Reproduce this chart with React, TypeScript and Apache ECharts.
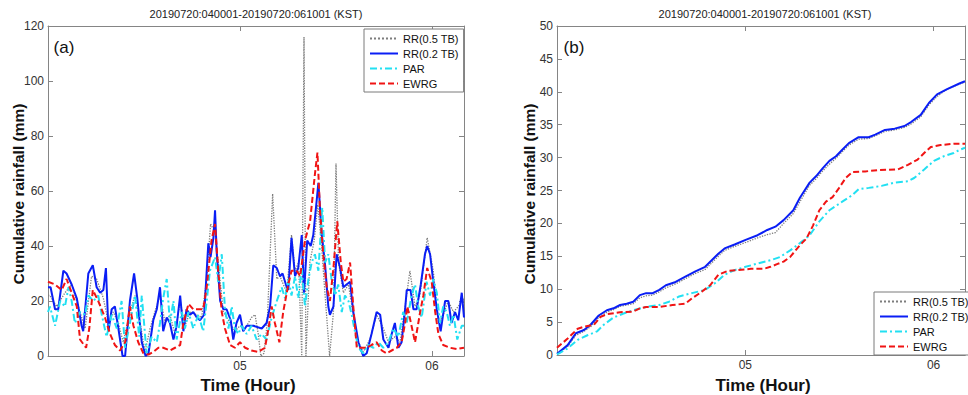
import React, { useEffect, useRef } from "react";
import * as echarts from "echarts";

// ---------- Data (time in minutes after 04:00 KST) ----------
const seriesNames = ["RR(0.5 TB)", "RR(0.2 TB)", "PAR", "EWRG"];
const panelTitle = "20190720:040001-20190720:061001 (KST)";
const hourTickLabels: Record<number, string> = { 60: "05", 120: "06" };

// Panel (a): rain rate
const rr05RateMin = [0, 0.6, 2.7, 5.3, 7.4, 10.0, 11.6, 13.6, 15.2, 17.3, 18.9, 20.4, 22.0, 23.5, 25.6, 27.2, 28.8, 30.3, 31.9, 33.4, 35.0, 36.6, 38.1, 39.7, 41.3, 42.8, 44.4, 46.5, 48.0, 49.6, 50.8, 52.2, 53.2, 54.8, 56.9, 58.4, 60.0, 61.6, 63.6, 64.7, 65.7, 66.5, 67.5, 68.5, 70.2, 71.5, 72.5, 74.6, 76.1, 77.2, 78.3, 79.3, 80.0, 80.6, 81.8, 83.2, 84.3, 85.5, 86.6, 88.0, 89.2, 90.0, 90.8, 92.3, 93.9, 95.4, 97.0, 98.5, 100.6, 102.7, 104.8, 106.4, 108.4, 110.0, 111.6, 113.1, 114.7, 116.2, 118.5, 120.4, 122.0, 123.5, 125.1, 126.7, 128.2, 129.8, 130];
const rr05Rate = [22, 22, 18, 23, 26, 16, 10, 29, 28, 21, 12, 16, 12, 5, 16, 22, 12, 1.5, 10, 16, 22, 12, 15, 8, 20, 11, 16, 15, 14, 28, 48, 45, 34, 16, 12, 9, 11, 10, 14, 15, 8, 0, 1, 12, 59, 28, 29, 23, 44, 31, 34, 0, 116, 0, 34, 42, 55, 40, 22, 0, 16, 70, 34, 23, 26, 15, 5, 1.5, 6, 15, 10, 5, 7, 5, 18, 31, 18, 22, 43, 31, 12, 15, 20, 16, 18, 21, 16];

const rr02RateMin = [0, 0.8, 2.2, 3.2, 4.8, 5.8, 7.4, 9.0, 10.5, 11.0, 12.6, 14.0, 15.2, 16.3, 17.3, 18.1, 18.9, 19.9, 20.9, 22.0, 23.3, 24.1, 25.6, 26.9, 27.9, 29.3, 30.5, 31.4, 32.9, 34.0, 35.0, 36.0, 37.1, 38.1, 39.2, 40.2, 41.3, 42.3, 43.3, 44.4, 45.4, 46.5, 47.5, 48.8, 50.1, 50.8, 51.7, 52.2, 52.7, 53.8, 54.8, 55.8, 57.1, 57.9, 58.9, 60.0, 61.0, 62.1, 64.2, 66.8, 68.3, 69.4, 70.4, 71.5, 72.5, 73.3, 74.6, 75.1, 76.1, 77.2, 78.2, 79.3, 80.0, 81.0, 82.1, 82.9, 84.0, 84.5, 85.5, 86.6, 87.6, 88.1, 89.2, 90.2, 91.3, 92.3, 93.3, 94.4, 95.4, 97.0, 98.5, 99.6, 101.1, 102.7, 103.8, 104.8, 106.4, 107.4, 108.4, 109.5, 110.5, 111.6, 112.1, 113.3, 114.2, 115.2, 116.5, 117.8, 118.5, 119.4, 120.4, 121.5, 122.7, 124.1, 125.1, 126.1, 127.2, 128.2, 129.3, 130];
const rr02Rate = [25, 25, 17, 17, 31, 30, 26, 21, 11, 9, 30, 33, 25, 23, 24, 32, 9, 17, 18, 10, 0, 0, 20, 30, 21, 5, 0, 1, 13, 17, 25, 9, 14, 12, 6, 11, 22, 9, 17, 15, 16, 14, 13, 15, 41, 36, 43, 53, 38, 20, 17, 17, 13, 6, 12, 15, 9, 11, 11, 10, 12, 18, 33, 32, 29, 30, 25, 24, 43, 29, 32, 44, 23, 42, 40, 44, 57, 63, 45, 33, 18, 15, 18, 37, 32, 25, 26, 27, 16, 5, 0, 1, 8, 16, 15, 6, 3, 8, 12, 3, 5, 17, 24, 24, 17, 17, 26, 37, 40, 37, 27, 17, 9, 20, 20, 12, 16, 13, 23, 14];

const parRateMin = [0, 0.6, 2.2, 3.8, 5.3, 6.4, 7.4, 8.4, 10.0, 11.6, 12.6, 14.2, 15.7, 16.8, 18.3, 19.9, 21.5, 23.0, 24.1, 25.6, 27.2, 28.5, 29.3, 30.8, 32.4, 34.0, 35.0, 36.0, 37.1, 38.1, 39.2, 40.2, 41.8, 42.8, 43.9, 45.4, 47.0, 48.5, 49.6, 50.6, 52.2, 53.2, 54.3, 55.3, 56.4, 57.4, 58.4, 59.5, 60.5, 62.1, 63.6, 65.2, 66.8, 68.3, 69.9, 71.5, 73.0, 74.1, 75.1, 76.1, 77.2, 78.2, 79.3, 80.3, 81.4, 82.4, 83.4, 84.5, 85.7, 86.6, 87.6, 88.6, 89.7, 90.7, 91.8, 92.8, 93.9, 94.9, 95.9, 97.0, 98.5, 100.1, 101.7, 103.2, 104.8, 106.4, 107.9, 109.5, 111.0, 112.1, 113.6, 114.7, 115.7, 116.8, 118.3, 119.4, 120.4, 121.5, 122.5, 123.5, 124.6, 125.6, 126.7, 127.9, 129.3, 130];
const parRate = [16, 18, 11, 20, 18, 25, 20, 12, 16, 15, 22, 20, 22, 15, 7, 15, 10, 20, 3, 12, 22, 7, 22, 1, 7, 5, 12, 21, 28, 12, 20, 6, 16, 10, 16, 10, 15, 9, 20, 31, 36, 27, 37, 17, 10, 18, 10, 8, 11, 8, 11, 6, 8, 6, 14, 20, 25, 21, 28, 22, 29, 21, 32, 18, 28, 34, 37, 31, 54, 34, 37, 28, 22, 26, 16, 22, 20, 15, 9, 3, 1, 4, 3, 5, 3, 5, 10, 7, 16, 12, 22, 26, 18, 14, 27, 22, 28, 23, 12, 18, 16, 11, 15, 6, 11, 11];

const ewrgRateMin = [0, 2.2, 4.3, 5.8, 7.4, 9.0, 10.0, 11.9, 12.9, 14.0, 15.7, 17.8, 19.4, 20.9, 22.5, 24.1, 25.6, 26.7, 28.2, 29.8, 31.4, 32.9, 34.5, 36.0, 38.1, 39.7, 41.3, 42.3, 43.9, 45.4, 47.0, 48.5, 49.6, 51.1, 52.2, 53.2, 54.3, 55.3, 56.9, 58.4, 60.0, 61.6, 63.6, 65.7, 67.8, 68.9, 69.9, 70.9, 72.3, 73.5, 75.1, 76.1, 77.7, 78.8, 80.3, 81.9, 83.4, 84.2, 85.0, 86.0, 87.1, 88.1, 89.2, 90.4, 91.5, 92.3, 93.3, 94.4, 95.4, 96.5, 98.0, 99.6, 101.1, 102.7, 104.3, 105.8, 107.4, 109.0, 110.5, 111.6, 112.3, 113.6, 114.7, 116.3, 117.3, 118.5, 119.9, 121.0, 122.0, 123.5, 125.6, 127.7, 130];
const ewrgRate = [27, 26, 24, 28, 23, 18, 6, 3, 10, 24, 20, 14, 8, 4, 2, 5, 18, 11, 5, 1, 0.5, 1.5, 3, 3, 2, 3, 4, 12, 19, 17, 17, 17, 25, 42, 48, 31, 16, 10, 4, 3, 5, 3, 2, 1.5, 3, 10, 18, 12, 5, 16, 26, 31, 31, 29, 42, 49, 66, 74, 53, 37, 25, 20, 32, 49, 34, 27, 28, 34, 18, 3, 3, 3, 4, 5, 2, 1, 2, 3, 5, 12, 18, 11, 5, 16, 22, 32, 27, 16, 8, 4, 3, 2.5, 3];

// Panel (b): cumulative rainfall
const rr05CumMin = [0, 3.4, 6.0, 8.6, 10.7, 13.3, 15.9, 18.0, 20.1, 22.2, 24.3, 26.4, 28.4, 30.5, 32.6, 34.7, 37.8, 40.9, 44.1, 47.2, 49.3, 51.4, 53.4, 56.6, 60.1, 63.9, 67.0, 69.6, 72.2, 75.3, 77.4, 80.5, 82.6, 84.7, 86.8, 88.9, 90.9, 93.0, 96.1, 99.3, 101.4, 104.5, 107.6, 110.7, 112.8, 115.9, 118.5, 121.1, 124.3, 128.4, 130];
const rr05Cum = [0.1, 1.3, 3.0, 3.6, 4.3, 5.7, 6.5, 6.9, 7.4, 7.6, 7.8, 8.7, 9.0, 9.1, 9.6, 10.2, 10.8, 11.6, 12.4, 13.0, 14.0, 15.0, 15.9, 16.5, 17.1, 17.8, 18.3, 18.6, 20.0, 21.5, 23.3, 25.8, 26.8, 28.0, 29.0, 29.9, 30.9, 31.9, 32.8, 32.9, 33.3, 34.0, 34.2, 34.6, 35.1, 36.2, 38.0, 39.3, 40.4, 41.2, 41.5];

const rr02CumMin = [0, 0.8, 3.4, 6.0, 8.6, 10.7, 13.3, 15.9, 18.0, 20.1, 22.2, 24.3, 26.4, 28.4, 30.5, 32.6, 34.7, 37.8, 40.9, 44.1, 47.2, 49.3, 51.4, 53.4, 56.6, 60.1, 63.9, 67.0, 69.6, 72.2, 75.3, 77.4, 80.5, 82.6, 84.7, 86.8, 88.9, 90.9, 93.0, 96.1, 99.3, 101.4, 104.5, 107.6, 110.7, 112.8, 115.9, 118.5, 121.1, 124.3, 128.4, 130];
const rr02Cum = [0.2, 0.5, 1.5, 3.3, 3.8, 4.6, 6.0, 6.8, 7.1, 7.6, 7.8, 8.1, 9.1, 9.4, 9.4, 9.9, 10.6, 11.1, 11.9, 12.7, 13.4, 14.4, 15.4, 16.2, 16.8, 17.5, 18.2, 19.0, 19.5, 20.5, 22.0, 23.9, 26.2, 27.2, 28.4, 29.5, 30.2, 31.2, 32.2, 33.1, 33.1, 33.5, 34.2, 34.4, 34.8, 35.4, 36.5, 38.3, 39.6, 40.4, 41.3, 41.6];

const parCumMin = [0, 0.8, 3.4, 6.6, 9.7, 12.8, 14.9, 18.0, 21.2, 24.3, 28.4, 32.6, 35.7, 38.9, 43.0, 47.2, 50.3, 53.4, 56.6, 60.1, 63.9, 68.0, 71.1, 74.3, 77.4, 80.5, 83.6, 86.8, 90.9, 94.1, 96.1, 99.3, 103.4, 107.6, 111.8, 113.8, 117.0, 120.1, 123.2, 126.4, 128.4, 130];
const parCum = [0.1, 0.3, 1.0, 2.3, 3.0, 3.6, 4.6, 5.7, 6.3, 6.8, 7.3, 7.6, 8.1, 8.9, 9.4, 9.9, 10.9, 12.2, 12.9, 13.4, 13.9, 14.4, 14.9, 15.9, 17.0, 18.2, 20.3, 22.0, 23.3, 24.3, 25.2, 25.4, 25.7, 26.2, 26.4, 26.9, 28.2, 29.5, 30.2, 30.7, 31.2, 31.5];

const ewrgCumMin = [0, 3.4, 6.6, 8.6, 11.8, 13.9, 15.9, 20.1, 24.3, 26.4, 28.4, 32.6, 36.8, 40.9, 43.0, 46.1, 48.8, 51.4, 54.5, 57.6, 61.8, 65.9, 68.0, 70.1, 72.2, 74.3, 77.4, 79.5, 81.6, 83.6, 85.7, 87.8, 89.9, 92.0, 94.1, 98.2, 102.4, 108.6, 111.8, 114.9, 117.0, 119.1, 122.2, 126.4, 130];
const ewrgCum = [1.1, 2.5, 4.0, 4.3, 4.6, 5.8, 6.2, 6.5, 6.6, 7.1, 7.3, 7.3, 7.6, 7.8, 8.6, 9.6, 10.6, 12.2, 12.8, 12.9, 13.1, 13.1, 13.4, 13.8, 14.2, 14.9, 16.7, 17.7, 19.7, 22.0, 23.3, 24.0, 25.4, 26.9, 27.8, 27.9, 28.1, 28.2, 28.9, 29.7, 30.7, 31.6, 31.9, 32.1, 32.1];

// ---------- Styles ----------
const FONT = '"Liberation Sans", Arial, "DejaVu Sans", sans-serif';
const AXIS_COLOR = "#858585";
const LABEL_COLOR = "#333333";

const lineStyles = [
  { color: "#7d7d7d", width: 1.3, type: "dotted" as const },
  { color: "#0a1ef5", width: 2, type: "solid" as const },
  { color: "#22e0f2", width: 2, type: [7, 3, 2, 3] as any },
  { color: "#f01414", width: 2, type: [6, 3] as any },
];

const zip = (t: number[], v: number[]) => t.map((x, i) => [x, v[i]]);

function makeAxesForGrid(gridIndex: number, yMax: number, yInterval: number) {
  const xBase = {
    type: "value" as const,
    gridIndex,
    min: 0,
    max: 130,
    interval: 60,
    axisLine: { show: true, onZero: false, lineStyle: { color: AXIS_COLOR, width: 1 } },
    axisTick: { show: true, inside: true, length: 5, lineStyle: { color: AXIS_COLOR } },
    splitLine: { show: false },
  };
  const yBase = {
    type: "value" as const,
    gridIndex,
    min: 0,
    max: yMax,
    interval: yInterval,
    axisLine: { show: true, onZero: false, lineStyle: { color: AXIS_COLOR, width: 1 } },
    axisTick: { show: true, inside: true, length: 5, lineStyle: { color: AXIS_COLOR } },
    splitLine: { show: false },
  };
  const xAxes = [
    {
      ...xBase,
      position: "bottom",
      axisLabel: {
        show: true,
        margin: 4,
        color: LABEL_COLOR,
        fontSize: 12,
        fontFamily: FONT,
        formatter: (v: number) => hourTickLabels[v] ?? "",
      },
    },
    { ...xBase, position: "top", axisLabel: { show: false } },
  ];
  const yAxes = [
    {
      ...yBase,
      position: "left",
      axisLabel: { show: true, margin: 4, color: LABEL_COLOR, fontSize: 12, fontFamily: FONT },
    },
    { ...yBase, position: "right", axisLabel: { show: false } },
  ];
  return { xAxes, yAxes };
}

export default function App() {
  const ref = useRef<HTMLDivElement>(null);

  useEffect(() => {
    if (!ref.current) return;
    const chart = echarts.init(ref.current, undefined, { renderer: "svg" });

    const a = makeAxesForGrid(0, 120, 20);
    const b = makeAxesForGrid(1, 50, 5);

    const panelA = [
      zip(rr05RateMin, rr05Rate),
      zip(rr02RateMin, rr02Rate),
      zip(parRateMin, parRate),
      zip(ewrgRateMin, ewrgRate),
    ];
    const panelB = [
      zip(rr05CumMin, rr05Cum),
      zip(rr02CumMin, rr02Cum),
      zip(parCumMin, parCum),
      zip(ewrgCumMin, ewrgCum),
    ];

    const makeSeries = (data: number[][][], xAxisIndex: number, yAxisIndex: number) =>
      data.map((d, i) => ({
        type: "line" as const,
        name: seriesNames[i],
        data: d,
        xAxisIndex,
        yAxisIndex,
        showSymbol: false,
        symbol: "none",
        lineStyle: lineStyles[i],
        itemStyle: { color: lineStyles[i].color },
        z: 2 + i,
      }));

    const legendBase = {
      orient: "vertical" as const,
      data: seriesNames,
      itemWidth: 28,
      itemHeight: 10,
      itemGap: 4,
      padding: [4, 5, 3, 5],
      borderColor: "#7a7a7a",
      borderWidth: 1,
      backgroundColor: "#ffffff",
      selectedMode: false,
      itemStyle: { opacity: 0 },
      textStyle: { fontSize: 11, color: "#111", fontFamily: FONT, lineHeight: 10 },
    };

    const titleText = (x: number) => ({
      type: "text",
      x,
      y: 14,
      style: {
        text: panelTitle,
        font: `11px ${FONT}`,
        fill: "#222",
        textAlign: "center",
        textVerticalAlign: "middle",
      },
    });
    const yName = (x: number) => ({
      type: "text",
      x,
      y: 194,
      rotation: Math.PI / 2,
      style: {
        text: "Cumulative rainfall (mm)",
        font: `bold 15.5px ${FONT}`,
        fill: "#111",
        textAlign: "center",
        textVerticalAlign: "middle",
      },
    });
    const xName = (x: number) => ({
      type: "text",
      x,
      y: 385,
      style: {
        text: "Time (Hour)",
        font: `bold 17px ${FONT}`,
        fill: "#111",
        textAlign: "center",
        textVerticalAlign: "middle",
      },
    });
    const panelLabel = (x: number, t: string) => ({
      type: "text",
      x,
      y: 47,
      style: {
        text: t,
        font: `17px ${FONT}`,
        fill: "#111",
        textAlign: "center",
        textVerticalAlign: "middle",
      },
    });

    chart.setOption({
      animation: false,
      backgroundColor: "#ffffff",
      grid: [
        { left: 48, top: 26, width: 416, height: 330 },
        { left: 557, top: 26, width: 416, height: 329 },
      ],
      xAxis: [...a.xAxes, ...b.xAxes],
      yAxis: [...a.yAxes, ...b.yAxes],
      legend: [
        { ...legendBase, left: 364, top: 29 },
        { ...legendBase, left: 874, top: 292 },
      ],
      graphic: [
        titleText(256),
        titleText(765),
        yName(18),
        yName(529),
        xName(248),
        xName(763),
        panelLabel(64, "(a)"),
        panelLabel(574, "(b)"),
      ],
      series: [...makeSeries(panelA, 0, 0), ...makeSeries(panelB, 2, 2)],
    });

    return () => chart.dispose();
  }, []);

  return (
    <div
      ref={ref}
      style={{ position: "fixed", left: 0, top: 0, width: 968, height: 395, background: "#fff" }}
    />
  );
}
